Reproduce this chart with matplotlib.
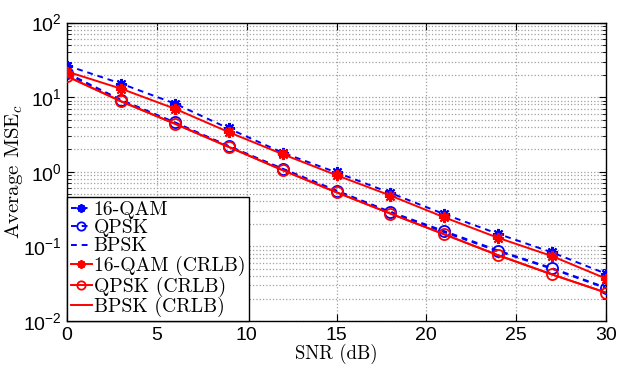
import math
import matplotlib
matplotlib.use("Agg")
import matplotlib.pyplot as plt
from matplotlib.ticker import FixedLocator, LogLocator, FuncFormatter, NullFormatter

plt.rcParams['mathtext.fontset'] = 'cm'
plt.rcParams['font.family'] = ['Liberation Sans', 'DejaVu Sans']
plt.rcParams['axes.unicode_minus'] = False

snr = [0, 3, 6, 9, 12, 15, 18, 21, 24, 27, 30]
qam16 = [26.5, 15.2, 8.2, 3.8, 1.8, 0.98, 0.52, 0.27, 0.147, 0.083, 0.043]
qpsk = [21, 9.2, 4.6, 2.2, 1.1, 0.56, 0.29, 0.16, 0.088, 0.051, 0.028]
bpsk = [20.5, 9.0, 4.5, 2.2, 1.08, 0.55, 0.285, 0.155, 0.086, 0.05, 0.0275]
qam16_crlb = [22, 13, 7.0, 3.4, 1.72, 0.9, 0.48, 0.245, 0.13, 0.074, 0.037]
qpsk_crlb = [19, 8.8, 4.4, 2.15, 1.05, 0.53, 0.275, 0.145, 0.076, 0.042, 0.024]
bpsk_crlb = [19, 8.8, 4.4, 2.15, 1.05, 0.53, 0.275, 0.145, 0.076, 0.042, 0.024]

labels = ['16-QAM', 'QPSK', 'BPSK', '16-QAM (CRLB)', 'QPSK (CRLB)', 'BPSK (CRLB)']

W, H = 617, 371
fig = plt.figure(figsize=(W / 100, H / 100), dpi=100)
ax = fig.add_axes([67 / W, 1 - 321 / H, (606 - 67) / W, (321 - 22.5) / H])

blue = '#0000ff'
red = '#ff0000'
ast = (8, 2, 0)
ax.plot(snr, qam16, '--', color=blue, marker=ast, ms=8, mfc=blue, mec=blue, mew=1.5, lw=1.4, dashes=(3, 2.5), label=labels[0], zorder=3)
ax.plot(snr, qpsk, '--', color=blue, marker='o', ms=8, mfc='none', mec=blue, mew=1.3, lw=1.4, dashes=(3, 2.5), label=labels[1], zorder=3)
ax.plot(snr, bpsk, '--', color=blue, lw=1.4, dashes=(3, 2.5), label=labels[2], zorder=3)
ax.plot(snr, qam16_crlb, '-', color=red, marker=ast, ms=8, mfc=red, mec=red, mew=1.5, lw=1.4, label=labels[3], zorder=4)
ax.plot(snr, qpsk_crlb, '-', color=red, marker='o', ms=8, mfc='none', mec=red, mew=1.3, lw=1.4, label=labels[4], zorder=4)
ax.plot(snr, bpsk_crlb, '-', color=red, lw=1.4, label=labels[5], zorder=4)

ax.set_yscale('log')
ax.set_xlim(0, 30)
ax.set_ylim(1e-2, 1e2)
ax.xaxis.set_major_locator(FixedLocator([0, 5, 10, 15, 20, 25, 30]))
ax.yaxis.set_major_locator(LogLocator(base=10, numticks=10))
ax.yaxis.set_minor_locator(LogLocator(base=10, subs=range(2, 10), numticks=100))
ax.yaxis.set_minor_formatter(NullFormatter())
ax.yaxis.set_major_formatter(FuncFormatter(lambda v, p: r'$\mathregular{10^{%d}}$' % round(math.log10(v))))

ax.grid(True, which='major', linestyle=':', color='#a0a0a0', lw=0.9)
ax.grid(True, which='minor', axis='y', linestyle=':', color='#a0a0a0', lw=0.9)
ax.tick_params(which='both', direction='in', top=True, right=True, labelsize=14, pad=4)
ax.tick_params(which='major', length=5)
ax.tick_params(which='minor', length=3)
for s in ax.spines.values():
    s.set_linewidth(1.0)

ax.set_xlabel('SNR (dB)', fontsize=13.5, family='cmr10', labelpad=0)
ax.set_ylabel(r'Average MSE$_c$', fontsize=15, family='cmr10')
ax.yaxis.set_label_coords(-0.078, 0.5)

leg = ax.legend(loc='lower left', prop={'family': 'cmr10', 'size': 14.2}, frameon=True, fancybox=False,
                edgecolor='black', framealpha=1, borderpad=0.2, labelspacing=0.02, handlelength=1.05,
                handletextpad=0.1, borderaxespad=0.0, markerscale=0.75)
leg.get_frame().set_linewidth(1.0)

fig.savefig('out.png', dpi=100)
